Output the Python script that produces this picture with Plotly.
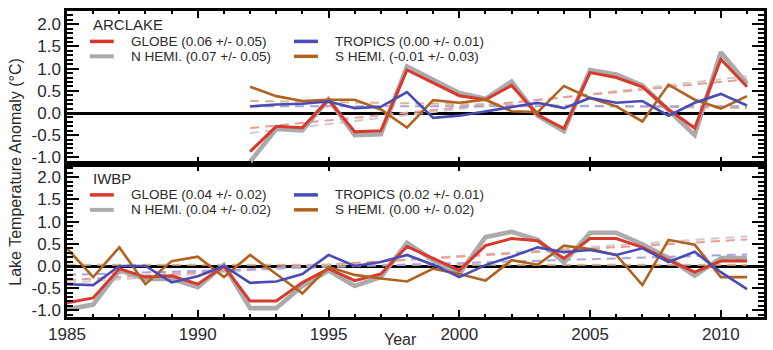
import plotly.graph_objects as go

# ---------------- data ----------------
series_names = ["GLOBE", "N HEMI.", "TROPICS", "S HEMI."]

arc_years = list(range(1992, 2012))
arc_globe = [-0.87, -0.30, -0.33, 0.30, -0.42, -0.40, 0.97, 0.68, 0.39, 0.30,
             0.62, -0.04, -0.35, 0.91, 0.80, 0.59, 0.08, -0.34, 1.21, 0.59]
arc_nhemi = [-1.10, -0.36, -0.39, 0.31, -0.50, -0.48, 1.05, 0.75, 0.45, 0.32,
             0.71, -0.06, -0.41, 0.97, 0.87, 0.62, 0.05, -0.50, 1.37, 0.66]
arc_tropics = [0.15, 0.19, 0.21, 0.26, 0.11, 0.14, 0.47, -0.11, -0.06, 0.04,
               0.14, 0.23, 0.11, 0.34, 0.23, 0.27, -0.06, 0.23, 0.43, 0.17]
arc_shemi = [0.59, 0.38, 0.27, 0.30, 0.30, 0.08, -0.33, 0.29, 0.23, 0.30,
             0.04, 0.02, 0.61, 0.34, 0.15, -0.19, 0.64, 0.30, 0.10, 0.38]
arc_trend_start = [-0.34, -0.45, 0.15, 0.27]
arc_trend_end = [0.76, 0.83, 0.15, 0.11]
arc_trend_text = ["(0.06 +/- 0.05)", "(0.07 +/- 0.05)", "(0.00 +/- 0.01)", "(-0.01 +/- 0.03)"]

iw_years = list(range(1985, 2012))
iw_globe = [-0.83, -0.72, -0.06, -0.25, -0.22, -0.41, 0.00, -0.79, -0.79, -0.37,
            -0.06, -0.33, -0.18, 0.44, 0.17, -0.10, 0.46, 0.62, 0.57, 0.17,
            0.62, 0.62, 0.42, 0.13, -0.14, 0.11, 0.11]
iw_nhemi = [-0.98, -0.87, -0.10, -0.29, -0.29, -0.48, 0.02, -0.95, -0.95, -0.45,
            -0.10, -0.45, -0.25, 0.52, 0.13, -0.18, 0.65, 0.77, 0.59, 0.08,
            0.75, 0.75, 0.49, 0.18, -0.22, 0.18, 0.18]
iw_tropics = [-0.41, -0.43, 0.00, 0.00, -0.37, -0.23, 0.00, -0.38, -0.35, -0.18,
              0.25, 0.00, 0.09, 0.25, 0.03, -0.25, 0.02, 0.21, 0.42, 0.31,
              0.36, 0.25, 0.40, 0.09, 0.32, -0.14, -0.52]
iw_shemi = [0.40, -0.25, 0.42, -0.41, 0.11, 0.21, -0.25, 0.25, -0.18, -0.62,
            -0.02, -0.20, -0.28, -0.35, -0.06, -0.18, -0.33, 0.13, 0.03, 0.46,
            0.38, 0.25, -0.43, 0.59, 0.48, -0.25, -0.25]
iw_trend_start = [-0.32, -0.38, -0.20, 0.03]
iw_trend_end = [0.60, 0.67, 0.26, 0.03]
iw_trend_text = ["(0.04 +/- 0.02)", "(0.04 +/- 0.02)", "(0.02 +/- 0.01)", "(0.00 +/- 0.02)"]

x_ticks = [1985, 1990, 1995, 2000, 2005, 2010]
y_ticks = [-1.0, -0.5, 0.0, 0.5, 1.0, 1.5, 2.0]
y_ticktext = ["-1.0", "-0.5", "0.0", "0.5", "1.0", "1.5", "2.0"]

# ---------------- styling ----------------
FONT = "Liberation Sans, Arial, sans-serif"
TXT = "#2a2a2a"
W, H = 773, 350
ML, MR, MT, MB = 67, 6, 11, 32
PW, PH = W - ML - MR, H - MT - MB


def px(x):
    return (x - ML) / PW


def py(y):
    return (H - MB - y) / PH


COLORS = ["#d8392c", "#ababab", "#4a4cb6", "#b2621f"]
WIDTHS = [3, 4.6, 2.6, 2.6]
TREND_COLORS = ["#eb9c94", "#cdcdcd", "#a5a5dd", "#ddb68e"]
DRAW_ORDER = [1, 0, 3, 2]

fig = go.Figure()

panels = [
    dict(xa="x2", ya="y2", years=arc_years,
         data=[arc_globe, arc_nhemi, arc_tropics, arc_shemi],
         ts=arc_trend_start, te=arc_trend_end),
    dict(xa="x", ya="y", years=iw_years,
         data=[iw_globe, iw_nhemi, iw_tropics, iw_shemi],
         ts=iw_trend_start, te=iw_trend_end),
]

for p in panels:
    yrs = p["years"]
    for i in DRAW_ORDER:
        fig.add_trace(go.Scatter(
            x=[yrs[0], yrs[-1]], y=[p["ts"][i], p["te"][i]], mode="lines",
            line=dict(color=TREND_COLORS[i], width=2, dash="9px,6px"),
            xaxis=p["xa"], yaxis=p["ya"], showlegend=False, hoverinfo="skip"))
    for i in DRAW_ORDER:
        fig.add_trace(go.Scatter(
            x=yrs, y=p["data"][i], mode="lines", name=series_names[i],
            line=dict(color=COLORS[i], width=WIDTHS[i]),
            xaxis=p["xa"], yaxis=p["ya"], showlegend=False))

axis_common = dict(showline=True, linecolor="black", linewidth=2.5, mirror="allticks",
                   ticks="inside", tickcolor="black", tickwidth=2, showgrid=False,
                   tickfont=dict(family=FONT, size=17, color=TXT))
xrange = [1985, 2011.65]
yrange = [-1.15, 2.3]

fig.update_layout(
    width=W, height=H, margin=dict(l=ML, r=MR, t=MT, b=MB),
    paper_bgcolor="white", plot_bgcolor="white", showlegend=False,
    font=dict(family=FONT, color=TXT),
    xaxis=dict(domain=[0, 1], anchor="y", range=xrange, tickmode="array", tickvals=x_ticks,
               ticklen=7, minor=dict(tickmode="linear", tick0=1985, dtick=1, ticklen=3,
                                     tickwidth=2, ticks="inside", tickcolor="black"),
               zeroline=False, **axis_common),
    xaxis2=dict(domain=[0, 1], anchor="y2", range=xrange, tickmode="array", tickvals=x_ticks,
                showticklabels=False, matches="x",
                ticklen=7, minor=dict(tickmode="linear", tick0=1985, dtick=1, ticklen=3,
                                      tickwidth=2, ticks="inside", tickcolor="black"),
                zeroline=False, **axis_common),
    yaxis=dict(domain=[0, 0.5], anchor="x", range=yrange, tickmode="array", tickvals=y_ticks,
               ticktext=y_ticktext, ticklen=12,
               minor=dict(tickmode="linear", tick0=0, dtick=0.1, ticklen=6, tickwidth=1.5,
                          ticks="inside", tickcolor="black"),
               zeroline=True, zerolinecolor="black", zerolinewidth=3, **axis_common),
    yaxis2=dict(domain=[0.5, 1], anchor="x2", range=yrange, tickmode="array", tickvals=y_ticks,
                ticktext=y_ticktext, ticklen=12,
                minor=dict(tickmode="linear", tick0=0, dtick=0.1, ticklen=6, tickwidth=1.5,
                           ticks="inside", tickcolor="black"),
                zeroline=True, zerolinecolor="black", zerolinewidth=3, **axis_common),
)

# ---------------- in-panel legends ----------------
shapes = []
annotations = []
legend_specs = [
    ("ARCLAKE", 11, arc_trend_text),
    ("IWBP", 165, iw_trend_text),
]
# grid positions: (column, row) for GLOBE, N HEMI, TROPICS, S HEMI
slots = [(0, 0), (0, 1), (1, 0), (1, 1)]
col_sample_x = [(90, 114), (295, 319)]
col_text_x = [130, 335]
for title, top, texts in legend_specs:
    annotations.append(dict(text=title, x=px(91), y=py(top + 14), xref="paper", yref="paper",
                            xanchor="left", yanchor="middle", showarrow=False,
                            font=dict(family=FONT, size=15, color=TXT)))
    for i in range(4):
        c, r = slots[i]
        yrow = top + 30.5 + r * 15
        shapes.append(dict(type="line", xref="paper", yref="paper",
                           x0=px(col_sample_x[c][0]), x1=px(col_sample_x[c][1]),
                           y0=py(yrow), y1=py(yrow),
                           line=dict(color=COLORS[i], width=3.5 if i != 1 else 4)))
        annotations.append(dict(text=f"{series_names[i]} {texts[i]}", x=px(col_text_x[c]),
                                y=py(yrow), xref="paper", yref="paper", xanchor="left",
                                yanchor="middle", showarrow=False, borderpad=0,
                                font=dict(family=FONT, size=13.5, color=TXT)))

# axis titles
annotations.append(dict(text="Lake Temperature Anomaly (°C)", textangle=-90, x=px(15), y=py(172),
                        xref="paper", yref="paper", xanchor="center", yanchor="middle",
                        showarrow=False, font=dict(family=FONT, size=16, color=TXT)))
annotations.append(dict(text="Year", x=px(402), y=py(350), xref="paper", yref="paper",
                        xanchor="center", yanchor="bottom", showarrow=False, borderpad=0,
                        font=dict(family=FONT, size=16, color=TXT)))

fig.update_layout(shapes=shapes, annotations=annotations)

fig.write_html("out.html")
